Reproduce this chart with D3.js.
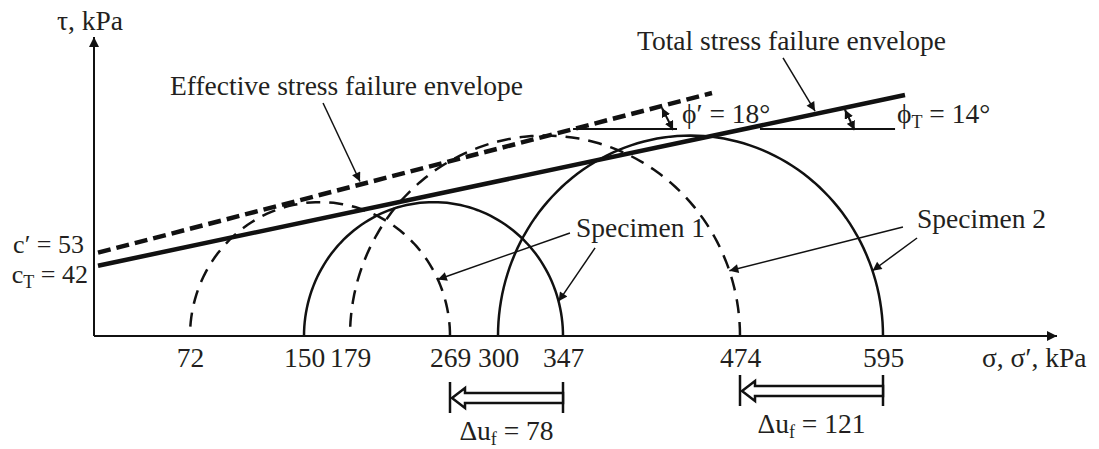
<!DOCTYPE html>
<html>
<head>
<meta charset="utf-8">
<script src="https://cdn.jsdelivr.net/npm/d3@7"></script>
<style>
  body { margin: 0; background: #fff; }
  text { font-family: "Liberation Serif", "DejaVu Serif", serif; fill: #231f20; font-size: 27.5px; }
  text.coh { font-size: 26px; }
</style>
</head>
<body>
<div id="chart"></div>
<script>
// values on the sigma axis (kPa)
var sigmaTicks = [72, 150, 179, 269, 300, 347, 474, 595];
// Mohr circles at failure: [sigma3, sigma1]
var specimens = ["Specimen 1", "Specimen 2"];
var totalCircles = [[150, 347], [300, 595]];
var effectiveCircles = [[72, 269], [179, 474]];
// excess pore pressure at failure
var deltaU = [78, 121];
// envelopes as drawn, end points [sigma, tau]
var totalEnvelope = [[3, 51.7], [613.6, 177.3]];
var effectiveEnvelope = [[3, 61.3], [453.9, 178.8]];
var cohesion = [53, 42];      // c', cT
var frictionAngle = [18, 14]; // phi', phiT

var width = 1099, height = 449;
var ink = "#111";

var svg = d3.select("#chart").append("svg")
    .attr("width", width)
    .attr("height", height);

// the drawing is a sketch, not to scale: the sigma axis is stretched piece by piece
var x = d3.scaleLinear()
    .domain([0].concat(sigmaTicks))
    .range([94, 190, 304, 350, 450, 498, 563, 740, 883]);
var y = d3.scaleLinear().domain([0, 220]).range([336, 37]);

// arrow heads
var defs = svg.append("defs");
function addMarker(id, w, h) {
    defs.append("marker")
        .attr("id", id)
        .attr("viewBox", "0 0 10 10")
        .attr("refX", 10).attr("refY", 5)
        .attr("markerWidth", w).attr("markerHeight", h)
        .attr("markerUnits", "userSpaceOnUse")
        .attr("orient", "auto-start-reverse")
        .append("path")
        .attr("d", "M0,0 L10,5 L0,10 z")
        .attr("fill", ink);
}
addMarker("axisHead", 13, 10);
addMarker("pointHead", 13, 9);
addMarker("angleHead", 9, 9);

// axes
svg.append("line")
    .attr("x1", x(0)).attr("y1", y(0))
    .attr("x2", width - 42).attr("y2", y(0))
    .attr("stroke", ink).attr("stroke-width", 2)
    .attr("marker-end", "url(#axisHead)");
svg.append("line")
    .attr("x1", x(0)).attr("y1", y(0))
    .attr("x2", x(0)).attr("y2", y(220))
    .attr("stroke", ink).attr("stroke-width", 2)
    .attr("marker-end", "url(#axisHead)");

var xAxis = svg.append("g")
    .attr("transform", "translate(0," + y(0) + ")")
    .call(d3.axisBottom(x).tickValues(sigmaTicks).tickSize(0).tickFormat(d3.format("d")));
xAxis.select(".domain").remove();
xAxis.selectAll("text").attr("y", 31).attr("dy", null);

svg.append("text").attr("x", 90).attr("y", 30).attr("text-anchor", "middle").text("τ, kPa");
svg.append("text").attr("x", 982).attr("y", 367).text("σ, σ′, kPa");

// Mohr semicircles, built from the scaled end points
function circlePx(c, deg) {
    var xa = x(c[0]), xb = x(c[1]);
    var rx = (xb - xa) / 2, ry = y(0) - y((c[1] - c[0]) / 2);
    var t = deg * Math.PI / 180;
    return [xa + rx + rx * Math.cos(t), y(0) - ry * Math.sin(t)];
}
function semicircle(c) {
    return d3.range(0, 181, 2).map(function(a) { return circlePx(c, a); });
}
var pxLine = d3.line();
var line = d3.line()
    .x(function(d) { return x(d[0]); })
    .y(function(d) { return y(d[1]); });

svg.append("g").selectAll("path")
    .data(effectiveCircles)
    .enter().append("path")
    .attr("d", function(d) { return pxLine(semicircle(d)); })
    .attr("fill", "none").attr("stroke", ink).attr("stroke-width", 2.5)
    .attr("stroke-dasharray", "14,9");
svg.append("g").selectAll("path")
    .data(totalCircles)
    .enter().append("path")
    .attr("d", function(d) { return pxLine(semicircle(d)); })
    .attr("fill", "none").attr("stroke", ink).attr("stroke-width", 2.5);

// failure envelopes
svg.append("path")
    .attr("d", line(effectiveEnvelope))
    .attr("fill", "none").attr("stroke", ink).attr("stroke-width", 4.5)
    .attr("stroke-dasharray", "13,6");
svg.append("path")
    .attr("d", line(totalEnvelope))
    .attr("fill", "none").attr("stroke", ink).attr("stroke-width", 4.5);

// pixel y of an envelope at a sigma value
function envelopeY(env, s) {
    var x0 = x(env[0][0]), x1 = x(env[1][0]);
    var y0 = y(env[0][1]), y1 = y(env[1][1]);
    return y0 + (y1 - y0) * (x(s) - x0) / (x1 - x0);
}

// angle marks
var angleMarks = [
    { env: effectiveEnvelope, from: 354.2, to: 428.8, s: 418, s2: 426, tau: 152.3 },
    { env: totalEnvelope, from: 490.9, to: 605.2, s: 562.8, s2: 571, tau: 152.3 }
];
angleMarks.forEach(function(m) {
    svg.append("line")
        .attr("x1", x(m.from)).attr("y1", y(m.tau))
        .attr("x2", x(m.to)).attr("y2", y(m.tau))
        .attr("stroke", ink).attr("stroke-width", 2);
    svg.append("line")
        .attr("x1", x(m.s)).attr("y1", envelopeY(m.env, m.s) + 2)
        .attr("x2", x(m.s2)).attr("y2", y(m.tau) + 1)
        .attr("stroke", ink).attr("stroke-width", 2)
        .attr("marker-start", "url(#angleHead)")
        .attr("marker-end", "url(#angleHead)");
});

// text with optional subscripts: parts are strings or {sub: "..."}
function label(px, py, parts, anchor) {
    var el = svg.append("text")
        .attr("x", px).attr("y", py)
        .attr("text-anchor", anchor || "start");
    var lowered = false;
    parts.forEach(function(p) {
        if (typeof p === "object") {
            el.append("tspan").attr("dy", 5).style("font-size", "18px").text(p.sub);
            lowered = true;
        } else {
            el.append("tspan").attr("dy", lowered ? -5 : 0).text(p);
            lowered = false;
        }
    });
    return el;
}

label(x(57), y(177.3), ["Effective stress failure envelope"]);
label(x(400.1), y(210.4), ["Total stress failure envelope"]);
label(x(432.4), y(156.7), ["ϕ′ = " + frictionAngle[0] + "°"]);
label(x(606.8), y(156.7), ["ϕ", { sub: "T" }, " = " + frictionAngle[1] + "°"]);
label(x(356.3), y(72.8), [specimens[0]]);
label(x(623.8), y(79.5), [specimens[1]]);

// cohesion labels beside the envelope intercepts
label(84, y(effectiveEnvelope[0][1]), ["c′ = " + cohesion[0]], "end").attr("class", "coh");
label(88, y(totalEnvelope[0][1]) + 17, ["c", { sub: "T" }, " = " + cohesion[1]], "end").attr("class", "coh");

// pointer arrows: start [sigma, tau] and target in pixels
var pointers = [
    [[162, 171.4], [x(188), envelopeY(effectiveEnvelope, 188) - 3]],
    [[510.4, 204.6], [x(537.5), envelopeY(totalEnvelope, 537.5) - 3]],
    [[352, 75.8], circlePx(effectiveCircles[0], 25)],
    [[370, 64.8], circlePx(totalCircles[0], 15)],
    [[611.9, 80.2], circlePx(effectiveCircles[1], 19)],
    [[623.8, 72.1], circlePx(totalCircles[1], 19)]
];
svg.append("g").selectAll("line")
    .data(pointers)
    .enter().append("line")
    .attr("x1", function(d) { return x(d[0][0]); })
    .attr("y1", function(d) { return y(d[0][1]); })
    .attr("x2", function(d) { return d[1][0]; })
    .attr("y2", function(d) { return d[1][1]; })
    .attr("stroke", ink).attr("stroke-width", 1.5)
    .attr("marker-end", "url(#pointHead)");

// pore pressure arrows below the axis
var rowY = [398, 391];
deltaU.forEach(function(du, i) {
    var xb = x(totalCircles[i][1]), xa = x(totalCircles[i][1] - du), yc = rowY[i];
    var g = svg.append("g").attr("stroke", ink).attr("stroke-width", 2.5);
    g.append("line").attr("x1", xa).attr("x2", xa).attr("y1", yc - 16).attr("y2", yc + 15);
    g.append("line").attr("x1", xb).attr("x2", xb).attr("y1", yc - 16).attr("y2", yc + 15);
    var pts = [[xa + 2, yc], [xa + 15, yc - 10], [xa + 15, yc - 5], [xb, yc - 5],
               [xb, yc + 5], [xa + 15, yc + 5], [xa + 15, yc + 10]];
    g.append("path").attr("d", "M" + pts.join("L") + "Z").attr("fill", "#fff");
    label((xa + xb) / 2, yc + 42, ["Δu", { sub: "f" }, " = " + du], "middle");
});
</script>
</body>
</html>
